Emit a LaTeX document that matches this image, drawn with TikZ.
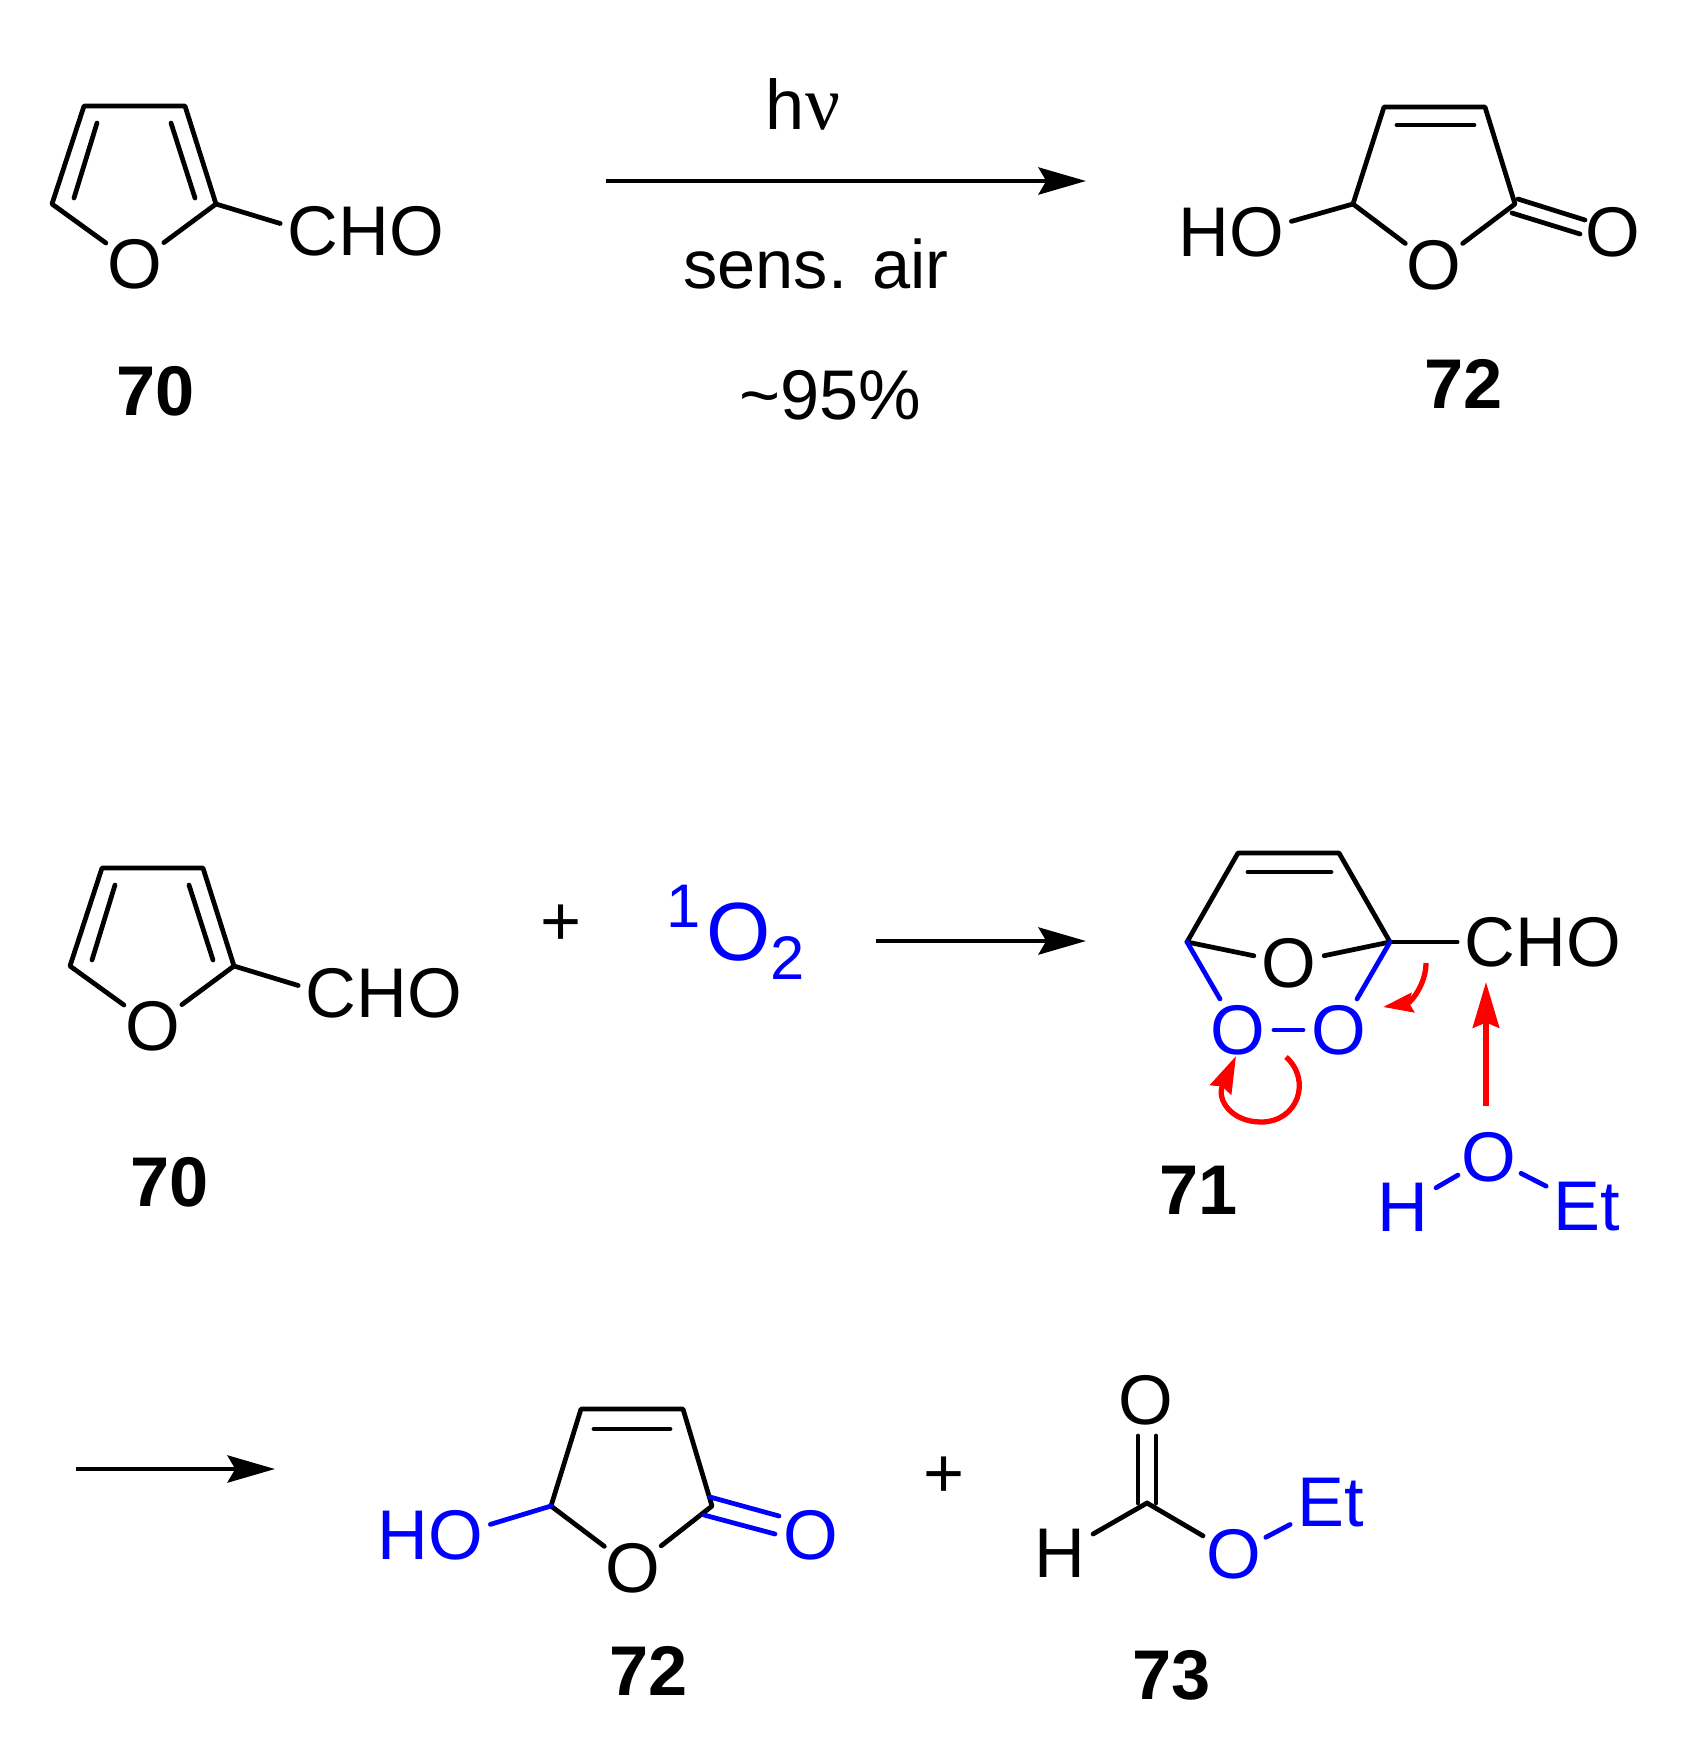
\documentclass[tikz,border=0pt]{standalone}
\usepackage{fontspec}
\setmainfont{Liberation Sans}
\newfontfamily\nufont{Liberation Serif}
\usetikzlibrary{arrows.meta}
\definecolor{atomblue}{RGB}{0,0,255}
\definecolor{pushred}{RGB}{255,0,0}

\begin{document}
\begin{tikzpicture}[x=0.01cm,y=-0.01cm,line width=1.35pt,line cap=round,line join=round]
    \tikzstyle{every node}=[font=\fontsize{20}{24}\selectfont,inner sep=1.5pt]
    \tikzstyle{atom}=[circle,inner sep=-0.7pt,minimum size=0.66cm]
    \tikzstyle{bluetext}=[text=atomblue]
    \tikzstyle{bluebond}=[draw=atomblue]
    \tikzstyle{cmpd}=[font=\fontsize{20}{24}\selectfont\bfseries]
    \tikzstyle{rxn}=[-{Stealth[length=13.5pt,width=7.7pt,inset=2.2pt]},line cap=butt]
    \tikzstyle{push}=[draw=pushred,line cap=butt,line width=1.5pt]

    \useasboundingbox (0,0) rectangle (1697,1756);

    % Draw the two furan rings with their aldehyde
    \foreach \name / \dx / \dy in {A/0/0,B/18/762}
    {
        \begin{scope}[shift={(\dx,\dy)}]
            \coordinate (\name-1) at (84,106);
            \coordinate (\name-2) at (185,106);
            \coordinate (\name-3) at (216,204);
            \coordinate (\name-4) at (52,204);
            \coordinate (\name-5) at (97,123);
            \coordinate (\name-6) at (74,198);
            \coordinate (\name-7) at (171,123);
            \coordinate (\name-8) at (195,198);
            \node[atom] (\name-O) at (135,264) {O};
            \node (\name-CHO) at (366,231) {CHO};
            \draw (\name-O) -- (\name-4) -- (\name-1) -- (\name-2) -- (\name-3) -- (\name-O);
            \draw (\name-5) -- (\name-6);
            \draw (\name-7) -- (\name-8);
            \draw (\name-3) -- (\name-CHO.175);
        \end{scope}
    }
    \node[cmpd] (label70a) at (156,391) {70};
    \node[cmpd] (label70b) at (170,1182) {70};

    % First reaction arrow
    \coordinate (arrow1s) at (606,181);
    \coordinate (arrow1e) at (1086,181);
    \draw[rxn] (arrow1s) -- (arrow1e);
    \node (hnu) at (803,104) {h{\nufont\fontsize{22}{24}\selectfont ν}};
    \node[font=\fontsize{19.5}{24}\selectfont] (sens) at (816,264) {sens. air};
    \node (yield) at (830,395) {\textasciitilde 95\%};

    % Butenolide of the first reaction
    \coordinate (C-1) at (1384,107);
    \coordinate (C-2) at (1485,107);
    \coordinate (C-3) at (1515,204);
    \coordinate (C-4) at (1353,204);
    \coordinate (C-5) at (1397,125);
    \coordinate (C-6) at (1474,125);
    \coordinate (C-7) at (1518,199);
    \coordinate (C-8) at (1585,220);
    \coordinate (C-9) at (1512,213);
    \coordinate (C-10) at (1580,234);
    \node[atom] (C-O) at (1434,265) {O};
    \node (C-HO) at (1231,232) {HO};
    \node[atom] (C-O2) at (1613,232) {O};
    \draw (C-O) -- (C-4) -- (C-1) -- (C-2) -- (C-3) -- (C-O);
    \draw (C-5) -- (C-6);
    \draw (C-7) -- (C-8);
    \draw (C-9) -- (C-10);
    \draw (C-4) -- (C-HO.10);
    \node[cmpd] (label72a) at (1464,384) {72};

    % Oxygen and second arrow
    \node (plus1) at (561,925) {+};
    \node[bluetext,font=\fontsize{23.5}{28}\selectfont] (oxygen) at (736,932)
        {\raisebox{9.4pt}{\fontsize{17.5}{20}\selectfont 1}\kern1.5pt O\raisebox{-5.4pt}{\fontsize{17.5}{20}\selectfont 2}};
    \coordinate (arrow2s) at (876,941);
    \coordinate (arrow2e) at (1086,941);
    \draw[rxn] (arrow2s) -- (arrow2e);

    % Endoperoxide
    \coordinate (D-1) at (1238,853);
    \coordinate (D-2) at (1339,853);
    \coordinate (D-3) at (1390,942);
    \coordinate (D-4) at (1187,942);
    \coordinate (D-5) at (1248,872);
    \coordinate (D-6) at (1331,872);
    \node[atom] (D-O) at (1289,963) {O};
    \node (D-CHO) at (1543,942) {CHO};
    \node[atom,bluetext] (D-O1) at (1238,1030) {O};
    \node[atom,bluetext] (D-O2) at (1339,1030) {O};
    \draw (D-4) -- (D-1) -- (D-2) -- (D-3);
    \draw (D-5) -- (D-6);
    \draw (D-4) -- (D-O);
    \draw (D-3) -- (D-O);
    \draw (D-3) -- (D-CHO);
    \draw[bluebond] (D-4) -- (D-O1);
    \draw[bluebond] (D-3) -- (D-O2);
    \draw[bluebond] (D-O1) -- (D-O2);
    \node[cmpd] (label71) at (1199,1190) {71};

    % Ethanol
    \node[atom,bluetext] (E-O) at (1489,1157) {O};
    \node[bluetext] (E-H) at (1403,1207) {H};
    \node[bluetext] (E-Et) at (1587,1207) {Et};
    \draw[bluebond] (E-O) -- (E-H);
    \draw[bluebond] (E-O) -- (E-Et);

    % Electron pushing arrows
    \coordinate (push1s) at (1286,1057);
    \coordinate (push1b) at (1261,1122);
    \coordinate (push1e) at (1236,1056);
    \draw[push,-{Stealth[length=10.5pt,width=6.5pt,inset=1pt]}] (push1s)
        .. controls (1312,1080) and (1298,1122) .. (push1b)
        .. controls (1232,1122) and (1216,1100) .. (push1e);
    \coordinate (push2s) at (1426,963);
    \coordinate (push2e) at (1383,1007);
    \draw[push,-{Stealth[length=8.5pt,width=5.5pt,inset=1pt]}] (push2s)
        .. controls (1426,985) and (1410,1003) .. (push2e);
    \coordinate (push3s) at (1486,1106);
    \coordinate (push3e) at (1486,982);
    \draw[push,-{Stealth[length=13pt,width=7.5pt,inset=1.5pt]}] (push3s) -- (push3e);

    % Third arrow
    \coordinate (arrow3s) at (76,1469);
    \coordinate (arrow3e) at (275,1469);
    \draw[rxn] (arrow3s) -- (arrow3e);

    % Butenolide of the last line
    \coordinate (F-1) at (581,1409);
    \coordinate (F-2) at (683,1409);
    \coordinate (F-3) at (712,1506);
    \coordinate (F-4) at (551,1506);
    \coordinate (F-5) at (594,1429);
    \coordinate (F-6) at (670,1429);
    \coordinate (F-7) at (710,1497);
    \coordinate (F-8) at (779,1516);
    \coordinate (F-9) at (704,1515);
    \coordinate (F-10) at (775,1534);
    \node[atom] (F-O) at (633,1568) {O};
    \node[bluetext] (F-HO) at (430,1535) {HO};
    \node[atom,bluetext] (F-O2) at (811,1535) {O};
    \draw (F-O) -- (F-4) -- (F-1) -- (F-2) -- (F-3) -- (F-O);
    \draw (F-5) -- (F-6);
    \draw[bluebond] (F-7) -- (F-8);
    \draw[bluebond] (F-9) -- (F-10);
    \draw[bluebond] (F-4) -- (F-HO.10);
    \node[cmpd] (label72b) at (649,1671) {72};
    \node (plus2) at (944,1477) {+};

    % Ethyl formate
    \coordinate (G-C) at (1147,1503);
    \coordinate (G-1) at (1138,1436);
    \coordinate (G-2) at (1138,1503);
    \coordinate (G-3) at (1156,1436);
    \coordinate (G-4) at (1156,1503);
    \node[atom] (G-O1) at (1146,1400) {O};
    \node (G-H) at (1060,1553) {H};
    \node[atom,bluetext] (G-O2) at (1234,1554) {O};
    \node[bluetext] (G-Et) at (1331,1503) {Et};
    \draw (G-1) -- (G-2);
    \draw (G-3) -- (G-4);
    \draw (G-C) -- (G-H);
    \draw (G-C) -- (G-O2);
    \draw[bluebond] (G-O2) -- (G-Et);
    \node[cmpd] (label73) at (1172,1675) {73};
\end{tikzpicture}
\end{document}
